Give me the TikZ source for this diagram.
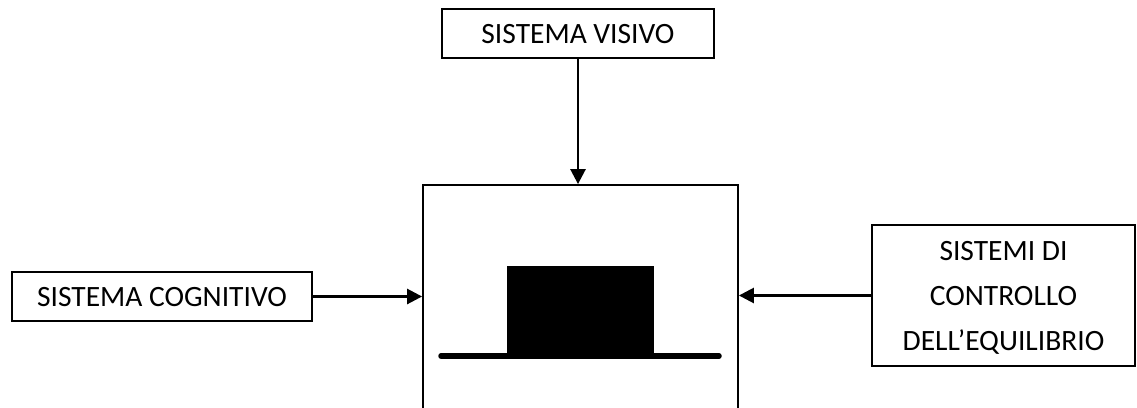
\documentclass[tikz,border=0pt]{standalone}
\usepackage{fontspec}
\setmainfont{Carlito}
\usetikzlibrary{arrows.meta}
\begin{document}
\begin{tikzpicture}[x=1pt,y=-1pt,
  box/.style={draw,line width=1.8pt,inner sep=0pt,align=center,font=\fontsize{29.5}{45}\selectfont},
  arr/.style={line width=2.6pt,-{Triangle[length=15pt,width=15pt]}}]
\useasboundingbox (0,0) rectangle (1137,407);
\clip (0,0) rectangle (1137,407);
\node[box,text depth=-12pt,minimum width=272pt,minimum height=49pt] (vis) at (578,33.5) {SISTEMA VISIVO};
\node[box,text depth=-12pt,minimum width=300pt,minimum height=49pt] (cog) at (162,296.5) {SISTEMA COGNITIVO};
\node[box,text depth=-9pt,minimum width=263pt,minimum height=141pt] (eq) at (1003.5,295.5) {SISTEMI DI\\CONTROLLO\\DELL’EQUILIBRIO};
\node[draw,line width=1.8pt,minimum width=315pt,minimum height=240pt] (ctr) at (580.5,305) {};
\fill (507,266) rectangle (654,358);
\draw[line width=5.5pt,line cap=round] (441,356) -- (719,356);
\draw[arr] (vis.south) -- (vis.south |- ctr.north);
\draw[arr] (cog.east) -- (cog.east -| ctr.west);
\draw[arr] (eq.west) -- (eq.west -| ctr.east);
\end{tikzpicture}
\end{document}
